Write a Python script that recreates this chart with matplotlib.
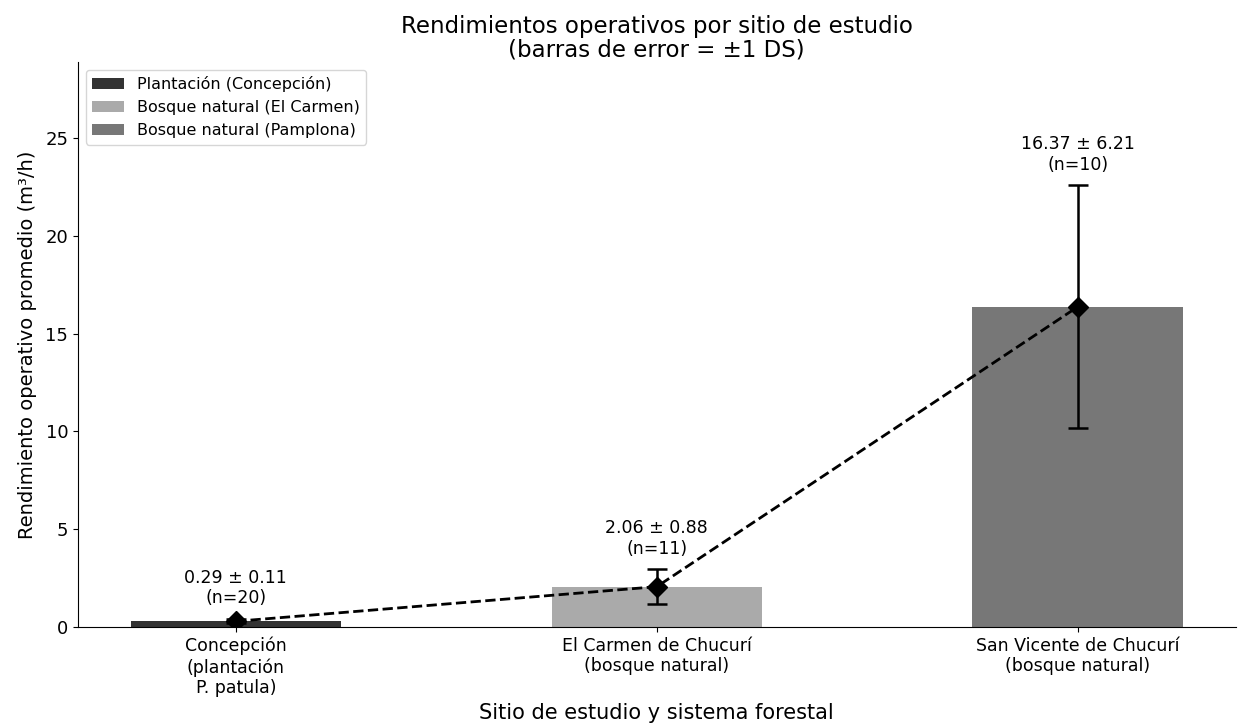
import matplotlib
matplotlib.use("Agg")
import matplotlib.pyplot as plt
import numpy as np

sites = ["Concepción\n(plantación\nP. patula)", "El Carmen de Chucurí\n(bosque natural)",
         "San Vicente de Chucurí\n(bosque natural)"]
legend_labels = ["Plantación (Concepción)", "Bosque natural (El Carmen)", "Bosque natural (Pamplona)"]
means = [0.29, 2.06, 16.37]
sds = [0.11, 0.88, 6.21]
ns = [20, 11, 10]
colors = ["#333333", "#aaaaaa", "#777777"]

fig = plt.figure(figsize=(12.38, 7.27), dpi=100)
ax = fig.add_axes([0.063, 0.1376, 0.935, 0.7774])

x = np.arange(len(sites))
bars = ax.bar(x, means, width=0.5, color=colors)
for b, lab in zip(bars, legend_labels):
    b.set_label(lab)

ax.errorbar(x, means, yerr=sds, fmt="D--", color="black", markersize=10,
            linewidth=2, elinewidth=1.8, capsize=7, capthick=1.8)

for xi, m, s, n in zip(x, means, sds, ns):
    ax.text(xi, m + s + 0.6, f"{m:.2f} ± {s:.2f}\n(n={n})", ha="center", va="bottom",
            fontsize=12.5)

ax.set_ylim(0, max(np.array(means) + np.array(sds)) * 1.28)
ax.set_xticks(x)
ax.set_xticklabels(sites, fontsize=12.5)
ax.tick_params(axis="y", labelsize=13)
ax.set_ylabel("Rendimiento operativo promedio (m³/h)", fontsize=14, labelpad=6)
ax.set_xlabel("Sitio de estudio y sistema forestal", fontsize=15, labelpad=4)
ax.set_title("Rendimientos operativos por sitio de estudio\n(barras de error = ±1 DS)",
             fontsize=16.5, pad=4, linespacing=1.0)
ax.spines["top"].set_visible(False)
ax.spines["right"].set_visible(False)
ax.legend(loc="upper left", fontsize=11.5)

fig.savefig("out.png", dpi=100)
